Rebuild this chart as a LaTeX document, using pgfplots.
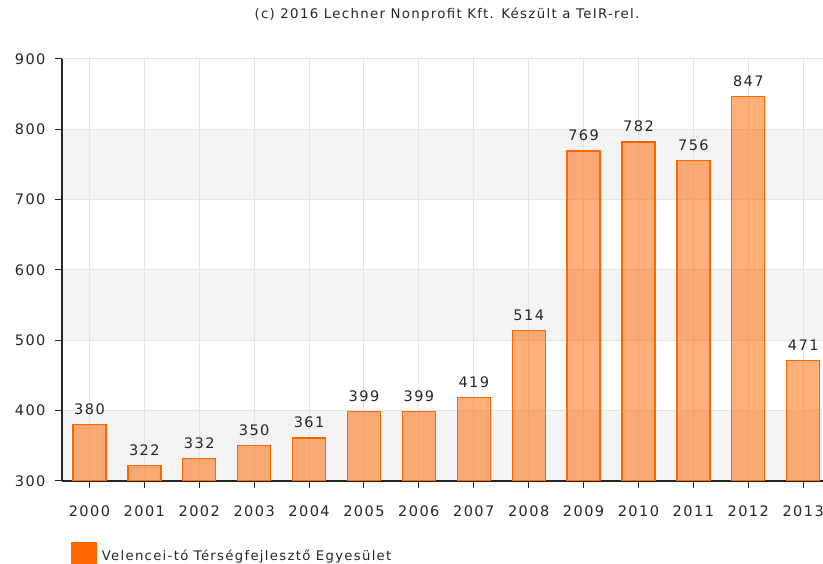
\documentclass[border=0pt]{standalone}
\usepackage{pgfplots}
\pgfplotsset{compat=1.18}
\usepackage{fontspec}
\setmainfont{DejaVu Sans}[LetterSpace=10]
\definecolor{barorange}{HTML}{FF6600}
\definecolor{gridgray}{HTML}{E4E4E4}
\definecolor{bandgray}{HTML}{F4F4F4}
\begin{document}
\begin{tikzpicture}
\node[font=\fontsize{13.3}{15}\selectfont, text=black!85] at (447pt,549pt) {(c) 2016 Lechner Nonprofit Kft. Készült a TeIR-rel.};
\begin{axis}[
  set layers,
  at={(62pt,83pt)}, anchor=south west, scale only axis,
  width=761pt, height=422pt,
  xmin=1999.5, xmax=2013.36, ymin=300, ymax=900,
  ytick={300,400,...,900},
  xtick={2000,...,2013},
  axis x line*=bottom, axis y line*=left,
  axis line style={black!85, line width=1.3pt, -},
  tick align=outside, major tick length=7pt,
  tick style={black!85, line width=1pt},
  grid=major, major grid style={gridgray, line width=1pt},
  ticklabel style={font=\fontsize{14.5}{17}\selectfont, text=black!85},
  /pgf/number format/assume math mode=true,
  /pgf/number format/1000 sep={},
  xticklabel style={yshift=-14pt},
  yticklabel style={xshift=-6pt},
  clip=true,
  legend style={draw=none, fill=none, at={(0,0)}, anchor=north west,
    xshift=9pt, yshift=-61pt, inner sep=0pt, font=\fontsize{13.2}{15}\selectfont,
    text=black!85},
  legend cell align=left,
  legend image code/.code={\fill[barorange, fill opacity=1, draw=none] (0pt,-10pt) rectangle (26pt,14pt); \path (28pt,0pt);},
]
\pgfplotsextra{%
\begin{pgfonlayer}{axis background}
\fill[bandgray] (axis cs:1999.5,300) rectangle (axis cs:2013.36,400);
\fill[bandgray] (axis cs:1999.5,500) rectangle (axis cs:2013.36,600);
\fill[bandgray] (axis cs:1999.5,700) rectangle (axis cs:2013.36,800);
\end{pgfonlayer}}
\addplot[ybar, bar width=33pt, draw=barorange, line width=1.3pt,
  fill=barorange, fill opacity=0.52,
  nodes near coords,
  every node near coord/.append style={text opacity=1, fill opacity=1, text=black!85,
    font=\fontsize{14.5}{17}\selectfont, anchor=south, yshift=6pt},
  point meta=explicit symbolic]
coordinates {
(2000,380) [380]
(2001,322) [322]
(2002,332) [332]
(2003,350) [350]
(2004,361) [361]
(2005,399) [399]
(2006,399) [399]
(2007,419) [419]
(2008,514) [514]
(2009,769) [769]
(2010,782) [782]
(2011,756) [756]
(2012,847) [847]
(2013,471) [471]
};
\addlegendentry{Velencei-tó Térségfejlesztő Egyesület}
\end{axis}
\pgfresetboundingbox
\useasboundingbox (0,0) rectangle (823pt,564pt);
\end{tikzpicture}
\end{document}
